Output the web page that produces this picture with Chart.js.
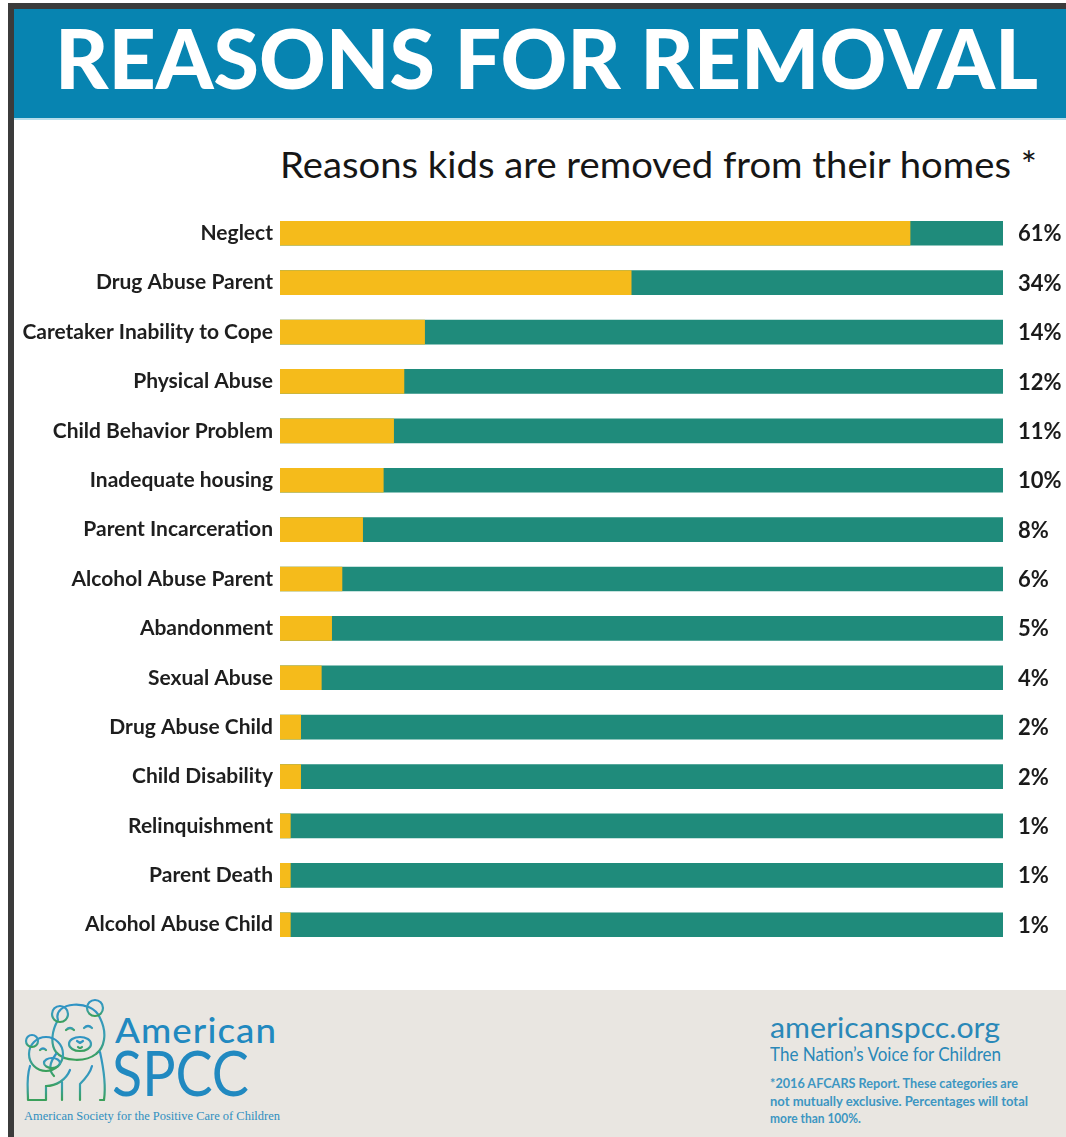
<!DOCTYPE html>
<html>
<head>
<meta charset="utf-8">
<script src="https://cdn.jsdelivr.net/npm/chart.js@4.4.1/dist/chart.umd.min.js"></script>
<style>
  html, body { margin: 0; padding: 0; background: #fff; }
  #page { position: relative; width: 1066px; height: 1137px; overflow: hidden; font-family: Lato, sans-serif; }
  .abs { position: absolute; white-space: nowrap; line-height: 1; transform-origin: 0 0; }
  #chartBox { position: absolute; left: 14px; top: 189px; width: 1052px; height: 780px; }
</style>
</head>
<body>
<div id="page">
  <!-- frame and banner -->
  <div class="abs" style="left:8px;top:3px;width:1058px;height:6px;background:#3b3b3b"></div>
  <div class="abs" style="left:8px;top:3px;width:6px;height:1134px;background:#3b3b3b"></div>
  <div class="abs" style="left:14px;top:9px;width:1052px;height:109px;background:#0784b1"></div>
  <div class="abs" style="left:14px;top:118px;width:1052px;height:2px;background:#b6dcea"></div>
  <div class="abs fit" data-w="983" style="left:55px;top:16px;font-size:82px;font-weight:900;color:#fff">REASONS FOR REMOVAL</div>

  <div class="abs fit" data-w="757" style="left:280px;top:145px;font-size:37px;color:#161616">Reasons kids are removed from their homes *</div>

  <div id="chartBox"><canvas id="reasonsChart"></canvas></div>

  <!-- footer -->
  <div class="abs" style="left:14px;top:990px;width:1052px;height:147px;background:#e9e6e1"></div>
  <svg class="abs" style="left:0;top:990px" width="120" height="147" viewBox="0 0 120 147">
    <defs>
      <linearGradient id="bearGrad" x1="0" y1="0" x2="0" y2="1">
        <stop offset="0" stop-color="#2f93c4"/>
        <stop offset="0.55" stop-color="#3a9fb3"/>
        <stop offset="1" stop-color="#3aa05a"/>
      </linearGradient>
    </defs>
    <g fill="none" stroke="url(#bearGrad)" stroke-width="2.2" stroke-linecap="round" stroke-linejoin="round">
      <!-- big bear -->
      <path d="M58 30 C52 12 92 8 100 28 C108 44 104 58 96 64 C86 72 64 72 56 62 C50 54 52 40 58 30 Z"/>
      <circle cx="60" cy="24" r="8"/>
      <circle cx="95" cy="18" r="8"/>
      <path d="M66 40 q4 -4 8 0 M84 38 q4 -4 8 0"/>
      <ellipse cx="80" cy="54" rx="11" ry="7"/>
      <path d="M77 51 l3 2 l3 -2 M78 57 q2 2 4 0"/>
      <path d="M100 62 C104 80 106 96 104 110 L100 110"/>
      <path d="M56 64 C50 72 48 80 54 86"/>
      <path d="M62 110 L62 92 M80 110 L80 94 C84 90 90 84 92 76"/>
      <!-- small bear -->
      <circle cx="46" cy="64" r="17"/>
      <circle cx="32" cy="51" r="6"/>
      <path d="M40 60 q3 -3 6 0"/>
      <ellipse cx="52" cy="73" rx="8" ry="5"/>
      <path d="M30 76 C26 88 28 100 28 110 L46 110 L46 96"/>
      <path d="M46 96 C56 96 66 90 70 80"/>
      <path d="M26 110 L106 110"/>
    </g>
  </svg>
  <div class="abs fit" data-w="162" style="left:115px;top:1013px;font-size:34px;font-weight:500;color:#2189c0;letter-spacing:1px">American</div>
  <div class="abs fit" data-w="137" style="left:112px;top:1041px;font-size:62px;font-weight:400;color:#2189c0">SPCC</div>
  <div class="abs fit" data-w="256" style="left:24px;top:1110px;font-size:12px;font-family:'Liberation Serif',serif;color:#2f8fbf">American Society for the Positive Care of Children</div>

  <div class="abs fit" data-w="230" style="left:770px;top:1012px;font-size:29px;color:#2a88b8">americanspcc.org</div>
  <div class="abs fit" data-w="231" style="left:770px;top:1044px;font-size:19px;color:#2a88b8">The Nation’s Voice for Children</div>
  <div class="abs fit" data-w="248" style="left:770px;top:1077px;font-size:13px;font-weight:700;color:#3d96c2">*2016 AFCARS Report. These categories are</div>
  <div class="abs fit" data-w="258" style="left:770px;top:1095px;font-size:13px;font-weight:700;color:#3d96c2">not mutually exclusive. Percentages will total</div>
  <div class="abs" style="left:770px;top:1112px;font-size:13px;font-weight:700;color:#3d96c2;transform:scaleX(0.92)">more than 100%.</div>
</div>

<script>
// squeeze text blocks to the widths they have in the picture
document.querySelectorAll('.fit').forEach(el => {
    const w = el.getBoundingClientRect().width;
    const target = Number(el.dataset.w);
    if (w > 0) el.style.transform = 'scaleX(' + (target / w) + ')';
});

// Data
const reasons = [
    "Neglect", "Drug Abuse Parent", "Caretaker Inability to Cope", "Physical Abuse",
    "Child Behavior Problem", "Inadequate housing", "Parent Incarceration", "Alcohol Abuse Parent",
    "Abandonment", "Sexual Abuse", "Drug Abuse Child", "Child Disability",
    "Relinquishment", "Parent Death", "Alcohol Abuse Child"
];
const percents = [61, 34, 14, 12, 11, 10, 8, 6, 5, 4, 2, 2, 1, 1, 1];

// the green track runs to the end of the axis
const axisMax = 70;
const track = reasons.map(() => axisMax);

// draws the "61%" labels to the right of each track
const valueLabels = {
    id: 'valueLabels',
    afterDatasetsDraw(chart) {
        const ctx = chart.ctx;
        const meta = chart.getDatasetMeta(0);
        ctx.save();
        ctx.font = 'bold 22px Lato';
        ctx.fillStyle = '#1a1a1a';
        ctx.textBaseline = 'middle';
        meta.data.forEach((bar, i) => {
            ctx.fillText(percents[i] + '%', chart.chartArea.right + 15, bar.y + 1);
        });
        ctx.restore();
    }
};

const ctx = document.getElementById('reasonsChart').getContext('2d');
const reasonsChart = new Chart(ctx, {
    type: 'bar',
    data: {
        labels: reasons,
        datasets: [{
            label: 'Percent',
            data: percents,
            backgroundColor: '#f5bb1b',
            barThickness: 24
        }, {
            label: 'Track',
            data: track,
            backgroundColor: '#1f8b7b',
            barThickness: 24
        }]
    },
    options: {
        indexAxis: 'y',
        responsive: true,
        maintainAspectRatio: false,
        animation: false,
        grouped: false,
        layout: { padding: { left: 0, right: 63, top: 0, bottom: 0 } },
        scales: {
            x: {
                display: false,
                min: 0,
                max: axisMax
            },
            y: {
                grid: { display: false, drawTicks: false },
                border: { display: false },
                ticks: {
                    color: '#1e1e1e',
                    padding: 7,
                    font: { family: 'Lato', size: 21, weight: 'bold' }
                },
                afterFit(scale) { scale.width = 266; }
            }
        },
        plugins: {
            legend: { display: false },
            tooltip: { enabled: false }
        }
    },
    plugins: [valueLabels]
});
</script>
</body>
</html>
